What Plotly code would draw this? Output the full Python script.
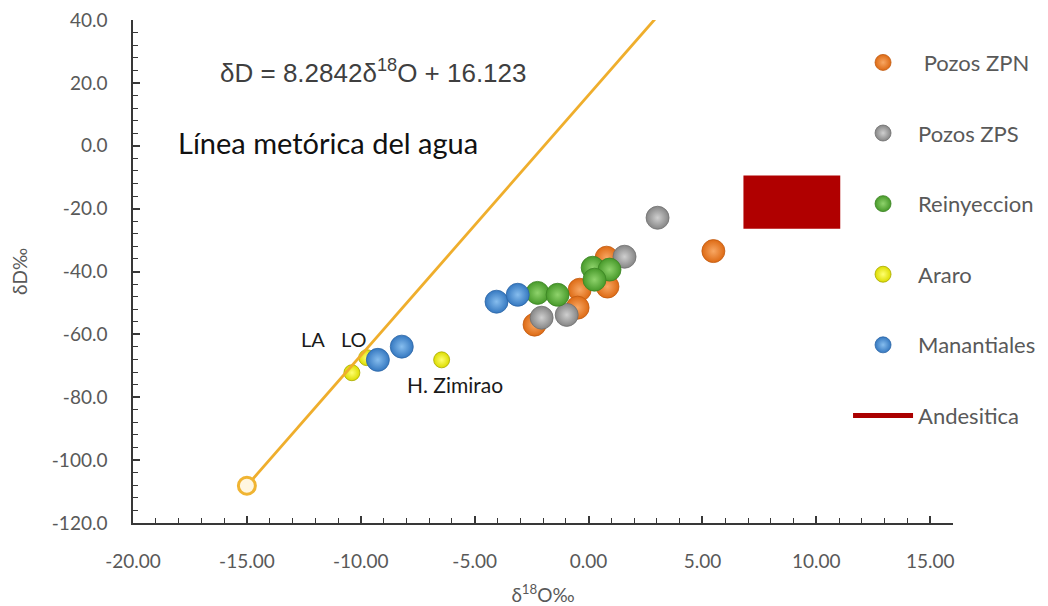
import plotly.graph_objects as go

# Isotope data: delta-18O (x) and delta-D (y), per-mil
zpn_o18 = [5.48, 0.79, 0.83, -0.39, -0.48, -2.37]
zpn_dd = [-33.5, -35.6, -44.8, -45.8, -51.5, -56.9]

zps_o18 = [3.03, 1.58, -0.96, -2.06]
zps_dd = [-22.9, -35.3, -53.8, -54.7]

rei_o18 = [0.18, 0.92, 0.26, -2.24, -1.36]
rei_dd = [-38.8, -39.4, -42.6, -46.8, -47.4]

araro_o18 = [-10.39, -9.74, -6.45]
araro_dd = [-72.2, -67.4, -68.1]

man_o18 = [-4.04, -3.11, -9.25, -8.20]
man_dd = [-49.6, -47.4, -68.1, -63.9]

# Andesitic water box (x range, y range)
andes_o18 = [6.80, 11.05]
andes_dd = [-26.4, -9.5]

# Meteoric water line: dD = slope * d18O + intercept
lmwl_slope = 8.2842
lmwl_intercept = 16.123
lmwl_o18 = [-15.0, 3.2]

x_ticks = [-20, -15, -10, -5, 0, 5, 10, 15]
y_ticks = [40, 20, 0, -20, -40, -60, -80, -100, -120]
x_ticktext = [f"{v:.2f}" for v in x_ticks]
y_ticktext = [f"{v:.1f}" for v in y_ticks]

LABEL_FONT = "Lato"
GREY = "#595959"
AXIS = "#383838"

fig = go.Figure()


def sphere(name, xs, ys, edge, centre, size, outline):
    fig.add_trace(go.Scatter(
        x=xs, y=ys, mode="markers", name=name,
        legendgroup=name,
        marker=dict(
            size=size, color=edge,
            gradient=dict(type="radial", color=centre),
            line=dict(color=outline, width=0.8),
        ),
    ))


sphere(" Pozos ZPN", zpn_o18, zpn_dd, "#DD6A14", "#F8A763", 23, "#C25A10")
sphere("Pozos ZPS", zps_o18, zps_dd, "#858585", "#CFCFCF", 23, "#707070")
sphere("Reinyeccion", rei_o18, rei_dd, "#47992A", "#8FD36C", 23, "#3C8424")
sphere("Araro", araro_o18, araro_dd, "#DCDC00", "#FFFF70", 16, "#A8A800")
sphere("Manantiales", man_o18, man_dd, "#3578C0", "#86BDEE", 23, "#2C66A6")

# Meteoric water line
line_dd = [lmwl_slope * v + lmwl_intercept for v in lmwl_o18]
fig.add_trace(go.Scatter(
    x=lmwl_o18, y=line_dd, mode="lines", showlegend=False,
    line=dict(color="#EFAE2C", width=2.8),
))
fig.add_trace(go.Scatter(
    x=lmwl_o18[:1], y=line_dd[:1], mode="markers", showlegend=False,
    marker=dict(size=17, color="#FFF6E0", line=dict(color="#F0B432", width=3)),
))

# Andesitic water box and its legend entry
fig.add_trace(go.Scatter(
    x=[andes_o18[0], andes_o18[1], andes_o18[1], andes_o18[0], andes_o18[0]],
    y=[andes_dd[0], andes_dd[0], andes_dd[1], andes_dd[1], andes_dd[0]],
    mode="lines", fill="toself", fillcolor="#B00000",
    line=dict(color="#B00000", width=0), showlegend=False,
    legendgroup="Andesitica",
))
fig.add_trace(go.Scatter(
    x=[None], y=[None], mode="lines", name="Andesitica",
    legendgroup="Andesitica",
    line=dict(color="#AA0000", width=5),
))

annotations = [
    dict(x=-9.45, y=23.5, xref="x", yref="y",
         text="δD = 8.2842δ<sup>18</sup>O + 16.123",
         font=dict(family="Liberation Sans", size=26, color="#3F3F3F"),
         showarrow=False, xanchor="center", yanchor="middle"),
    dict(x=-18.1, y=1.0, xref="x", yref="y",
         text="Línea metórica del agua",
         font=dict(family=LABEL_FONT, size=29, color="#111111"),
         showarrow=False, xanchor="left", yanchor="middle"),
    dict(x=-12.1, y=-61.5, xref="x", yref="y", text="LA",
         font=dict(family=LABEL_FONT, size=20, color="#1A1A1A"),
         showarrow=False, xanchor="center", yanchor="middle"),
    dict(x=-10.3, y=-61.5, xref="x", yref="y", text="LO",
         font=dict(family=LABEL_FONT, size=20, color="#1A1A1A"),
         showarrow=False, xanchor="center", yanchor="middle"),
    dict(x=-5.85, y=-76.0, xref="x", yref="y", text="H. Zimirao",
         font=dict(family=LABEL_FONT, size=21, color="#1A1A1A"),
         showarrow=False, xanchor="center", yanchor="middle"),
]

fig.update_layout(
    width=1048, height=606,
    margin=dict(l=133, r=95, t=20, b=83, autoexpand=False),
    paper_bgcolor="white", plot_bgcolor="white",
    font=dict(family=LABEL_FONT, color=GREY),
    annotations=annotations,
    legend=dict(
        x=0.872, xanchor="left", y=0.957, yanchor="top",
        bgcolor="rgba(0,0,0,0)",
        font=dict(family=LABEL_FONT, size=22, color=GREY),
        itemwidth=60, tracegroupgap=39, traceorder="grouped",
    ),
    xaxis=dict(
        range=[-20, 16], tickvals=x_ticks, ticktext=x_ticktext,
        automargin=False,
        showgrid=False, zeroline=False,
        showline=True, linecolor=AXIS, linewidth=1.5,
        ticks="inside", ticklen=7, tickcolor=AXIS, tickwidth=1.5,
        minor=dict(dtick=1, ticks="inside", ticklen=5, tickcolor=AXIS, tickwidth=1.3),
        tickfont=dict(family=LABEL_FONT, size=19, color=GREY),
        ticklabelstandoff=20,
        title=dict(text="δ<sup>18</sup>O‰", standoff=26,
                   font=dict(family=LABEL_FONT, size=19, color=GREY)),
    ),
    yaxis=dict(
        range=[-120, 40], tickvals=y_ticks, ticktext=y_ticktext,
        automargin=False,
        showgrid=False, zeroline=False,
        showline=True, linecolor=AXIS, linewidth=1.5,
        ticks="inside", ticklen=7, tickcolor=AXIS, tickwidth=1.5,
        minor=dict(dtick=4, ticks="inside", ticklen=5, tickcolor=AXIS, tickwidth=1.3),
        tickfont=dict(family=LABEL_FONT, size=19, color=GREY),
        ticklabelstandoff=20,
        title=dict(text="δD‰", standoff=19,
                   font=dict(family=LABEL_FONT, size=19, color=GREY)),
    ),
)

fig.write_html("out.html")
